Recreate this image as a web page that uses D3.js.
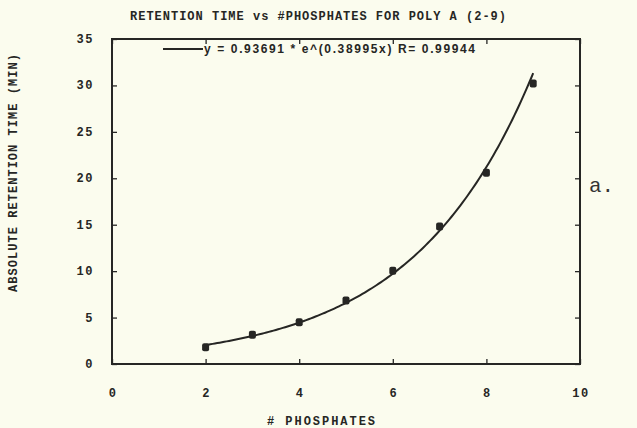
<!DOCTYPE html>
<html>
<head>
<meta charset="utf-8">
<script src="https://cdn.jsdelivr.net/npm/d3@7"></script>
<style>
  html, body { margin: 0; padding: 0; background: #fbfcee; }
  svg { display: block; }
</style>
</head>
<body>
<svg id="chart" width="637" height="428"></svg>
<script>
// Retention time (min) for each number of phosphates, poly A oligomers 2-9
const phosphates = [2, 3, 4, 5, 6, 7, 8, 9];
const retention = [1.8, 3.15, 4.5, 6.85, 10.05, 14.8, 20.6, 30.2];

// Exponential fit y = a * e^(b x)
const fitA = 0.93691;
const fitB = 0.38995;
const fitR = 0.99944;

const xTicks = [0, 2, 4, 6, 8, 10];
const yTicks = [0, 5, 10, 15, 20, 25, 30, 35];

const titleText = "RETENTION TIME vs #PHOSPHATES FOR POLY A (2-9)";
const xLabel = "# PHOSPHATES";
const yLabel = "ABSOLUTE RETENTION TIME (MIN)";
const legendText = `y = ${fitA} * e^(${fitB}x) R= ${fitR}`;
const panelTag = "a.";

const ink = "#262624";
const svg = d3.select("#chart");

const plotL = 112, plotR = 580, plotT = 39, plotB = 364;
const x = d3.scaleLinear().domain([0, 10]).range([plotL, plotR]);
const y = d3.scaleLinear().domain([0, 35]).range([plotB, plotT]);

const monoBold = "'Liberation Mono', 'DejaVu Sans Mono', monospace";

// frame
svg.append("rect")
  .attr("x", plotL).attr("y", plotT)
  .attr("width", plotR - plotL).attr("height", plotB - plotT)
  .attr("fill", "none").attr("stroke", ink).attr("stroke-width", 2);

// inward ticks on all four sides
const tickLen = 5;
const bottomAxis = d3.axisBottom(x).tickValues(xTicks).tickSize(-tickLen).tickFormat("");
const topAxis = d3.axisTop(x).tickValues(xTicks).tickSize(-tickLen).tickFormat("");
const leftAxis = d3.axisLeft(y).tickValues(yTicks).tickSize(-tickLen).tickFormat("");
const rightAxis = d3.axisRight(y).tickValues(yTicks).tickSize(-tickLen).tickFormat("");

function styleAxis(g) {
  g.select(".domain").remove();
  g.selectAll(".tick line").attr("stroke", ink).attr("stroke-width", 1.3);
}
svg.append("g").attr("transform", `translate(0,${plotB})`).call(bottomAxis).call(styleAxis);
svg.append("g").attr("transform", `translate(0,${plotT})`).call(topAxis).call(styleAxis);
svg.append("g").attr("transform", `translate(${plotL},0)`).call(leftAxis).call(styleAxis);
svg.append("g").attr("transform", `translate(${plotR},0)`).call(rightAxis).call(styleAxis);

// tick labels
svg.append("g").selectAll("text").data(xTicks).join("text")
  .attr("x", d => x(d) + 1).attr("y", 397)
  .attr("text-anchor", "middle")
  .attr("font-family", monoBold).attr("font-weight", "bold")
  .attr("font-size", 12).attr("letter-spacing", 1.5)
  .attr("fill", ink)
  .text(d => d);

svg.append("g").selectAll("text").data(yTicks).join("text")
  .attr("x", 94).attr("y", d => y(d) + 4)
  .attr("text-anchor", "end")
  .attr("font-family", monoBold).attr("font-weight", "bold")
  .attr("font-size", 12).attr("letter-spacing", 1.5)
  .attr("fill", ink)
  .text(d => d);

// title
svg.append("text")
  .attr("x", 130).attr("y", 20)
  .attr("font-family", monoBold).attr("font-weight", "bold")
  .attr("font-size", 12)
  .attr("textLength", 376).attr("lengthAdjust", "spacing")
  .attr("fill", ink)
  .text(titleText);

// axis titles
svg.append("text")
  .attr("x", 267).attr("y", 425)
  .attr("font-family", monoBold).attr("font-weight", "bold")
  .attr("font-size", 12)
  .attr("textLength", 108).attr("lengthAdjust", "spacing")
  .attr("fill", ink)
  .text(xLabel);

svg.append("text")
  .attr("transform", "translate(17,292) rotate(-90)")
  .attr("font-family", monoBold).attr("font-weight", "bold")
  .attr("font-size", 12)
  .attr("textLength", 238).attr("lengthAdjust", "spacing")
  .attr("fill", ink)
  .text(yLabel);

// fitted curve from 2 to 9 phosphates
const fitPts = d3.range(2, 9.0001, 0.05).map(v => [v, fitA * Math.exp(fitB * v)]);
svg.append("path")
  .datum(fitPts)
  .attr("d", d3.line().x(d => x(d[0])).y(d => y(d[1])))
  .attr("fill", "none").attr("stroke", ink).attr("stroke-width", 2);

// measured points
svg.append("g").selectAll("rect").data(phosphates).join("rect")
  .attr("x", d => x(d) - 3.5).attr("y", (d, i) => y(retention[i]) - 4)
  .attr("width", 7).attr("height", 8).attr("rx", 2)
  .attr("fill", ink);

// legend
svg.append("line")
  .attr("x1", 163).attr("x2", 203).attr("y1", 49).attr("y2", 49)
  .attr("stroke", ink).attr("stroke-width", 2);
svg.append("text")
  .attr("x", 204).attr("y", 53)
  .attr("font-family", "'Liberation Sans', Arial, sans-serif").attr("font-weight", "bold")
  .attr("font-size", 12)
  .attr("textLength", 271).attr("lengthAdjust", "spacing")
  .attr("fill", ink)
  .text(legendText);

// panel tag
svg.append("text")
  .attr("x", 589).attr("y", 192)
  .attr("font-family", "'Liberation Mono', 'DejaVu Sans Mono', monospace")
  .attr("font-size", 21)
  .attr("fill", "#333")
  .text(panelTag);
</script>
</body>
</html>
